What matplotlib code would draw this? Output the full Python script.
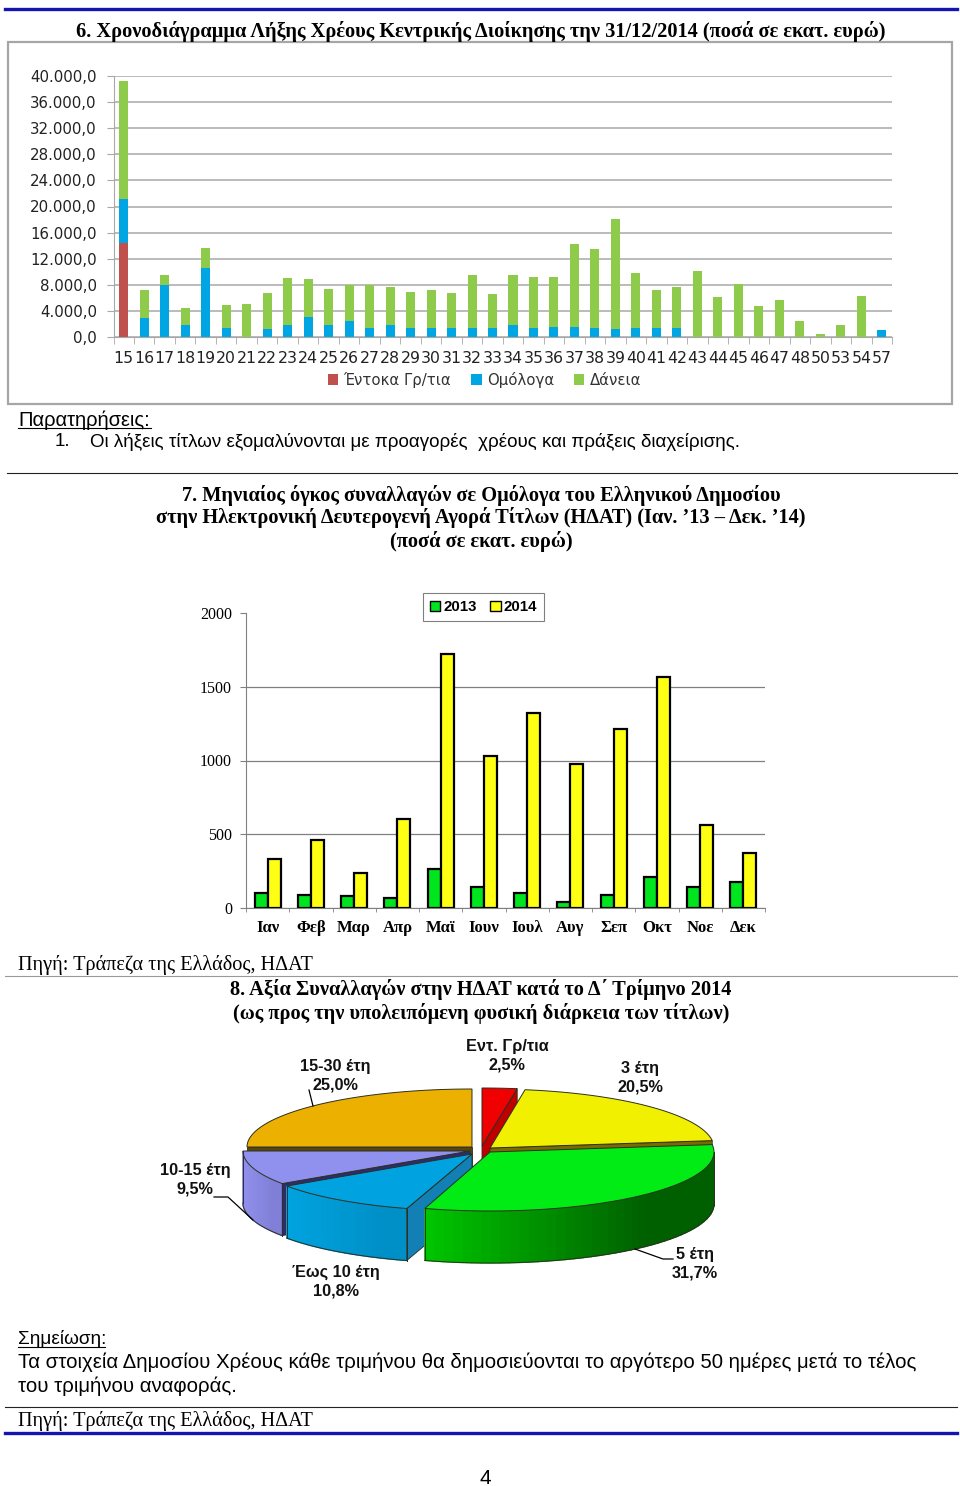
import numpy as np
import matplotlib
matplotlib.use("Agg")
import matplotlib.pyplot as plt
from matplotlib.patches import Polygon, Patch

W, H = 960, 1486

# chart 6: maturity profile
years = ["15", "16", "17", "18", "19", "20", "21", "22", "23", "24", "25", "26", "27",
         "28", "29", "30", "31", "32", "33", "34", "35", "36", "37", "38", "39", "40",
         "41", "42", "43", "44", "45", "46", "47", "48", "50", "53", "54", "57"]
bills = [14400] + [0] * 37
bonds = [6800, 2900, 7900, 1800, 10600, 1400, 0, 1200, 1800, 3100, 1800, 2400, 1400,
         1800, 1400, 1400, 1400, 1400, 1400, 1800, 1400, 1500, 1500, 1400, 1250, 1400,
         1400, 1400, 0, 0, 0, 0, 0, 0, 0, 0, 0, 1050]
loans = [18000, 4300, 1600, 2600, 3000, 3550, 5000, 5600, 7200, 5800, 5500, 5600, 6600,
         5900, 5550, 5800, 5300, 8100, 5250, 7660, 7800, 7700, 12700, 12150, 16800, 8470,
         5860, 6220, 10080, 6090, 8130, 4760, 5730, 2450, 460, 1900, 6240, 0]
y_ticks1 = [0, 4000, 8000, 12000, 16000, 20000, 24000, 28000, 32000, 36000, 40000]
y_labels1 = ["0,0", "4.000,0", "8.000,0", "12.000,0", "16.000,0", "20.000,0",
             "24.000,0", "28.000,0", "32.000,0", "36.000,0", "40.000,0"]

# chart 7: monthly turnover
months = ["Ιαν", "Φεβ", "Μαρ", "Απρ", "Μαϊ", "Ιουν", "Ιουλ", "Αυγ", "Σεπ", "Οκτ", "Νοε", "Δεκ"]
vol_2013 = [105, 85, 80, 70, 265, 145, 100, 40, 90, 210, 140, 175]
vol_2014 = [335, 460, 235, 605, 1720, 1030, 1325, 975, 1215, 1565, 560, 370]

# chart 8: pie shares, clockwise from the top
shares = [2.5, 20.5, 31.7, 10.8, 9.5, 25.0]
share_names = ["Εντ. Γρ/τια", "3 έτη", "5 έτη", "Έως 10 έτη", "10-15 έτη", "15-30 έτη"]

SERIF = "Liberation Serif"
SANS = "Liberation Sans"

fig = plt.figure(figsize=(W / 100, H / 100), dpi=100, facecolor="white")
page = fig.add_axes([0, 0, 1, 1])
page.set_xlim(0, W)
page.set_ylim(H, 0)
page.axis("off")


def px_axes(left, top, right, bottom):
    return fig.add_axes([left / W, 1 - bottom / H, (right - left) / W, (bottom - top) / H])


def txt(x, y, s, size=13.2, family=SANS, weight="normal", ha="left", color="black"):
    page.text(x, y, s, fontsize=size, family=family, weight=weight, ha=ha, va="center", color=color)


# page furniture
page.plot([5, 957], [9, 9], color="#1414b4", lw=2.4)
page.plot([5, 957], [1433, 1433], color="#1414b4", lw=2.4)
page.plot([7, 957], [473, 473], color="#222222", lw=0.8)
page.plot([5, 957], [976, 976], color="#999999", lw=0.8)
page.plot([5, 957], [1407, 1407], color="#222222", lw=0.8)
page.add_patch(plt.Rectangle((8, 42), 944, 362, fc="white", ec="#a6a6a6", lw=1.6))

TITLE = 14.65
txt(481, 31, "6. Χρονοδιάγραμμα Λήξης Χρέους Κεντρικής Διοίκησης την 31/12/2014 (ποσά σε εκατ. ευρώ)",
    size=TITLE, family=SERIF, weight="bold", ha="center")
txt(18, 420, "Παρατηρήσεις:", size=14.5)
page.plot([18, 151], [428, 428], color="black", lw=0.8)
txt(55, 442, "1.", size=13.5)
txt(90, 442, "Οι λήξεις τίτλων εξομαλύνονται με προαγορές  χρέους και πράξεις διαχείρισης.", size=13.5)

txt(481, 495, "7. Μηνιαίος όγκος συναλλαγών σε Ομόλογα του Ελληνικού Δημοσίου", size=TITLE,
    family=SERIF, weight="bold", ha="center")
txt(481, 518, "στην Ηλεκτρονική Δευτερογενή Αγορά Τίτλων (ΗΔΑΤ) (Ιαν. ’13 – Δεκ. ’14)", size=TITLE,
    family=SERIF, weight="bold", ha="center")
txt(481, 542, "(ποσά σε εκατ. ευρώ)", size=TITLE, family=SERIF, weight="bold", ha="center")
txt(18, 965, "Πηγή: Τράπεζα της Ελλάδος, ΗΔΑΤ", size=14.6, family=SERIF)
txt(481, 990, "8. Αξία Συναλλαγών στην ΗΔΑΤ κατά το Δ΄ Τρίμηνο 2014", size=TITLE, family=SERIF,
    weight="bold", ha="center")
txt(481, 1014, "(ως προς την υπολειπόμενη φυσική διάρκεια των τίτλων)", size=TITLE, family=SERIF,
    weight="bold", ha="center")
txt(18, 1339, "Σημείωση:", size=13.7)
page.plot([18, 105], [1347, 1347], color="black", lw=0.8)
txt(18, 1362, "Τα στοιχεία Δημοσίου Χρέους κάθε τριμήνου θα δημοσιεύονται το αργότερο 50 ημέρες μετά το τέλος", size=14.7)
txt(18, 1386, "του τριμήνου αναφοράς.", size=14.7)
txt(18, 1421, "Πηγή: Τράπεζα της Ελλάδος, ΗΔΑΤ", size=14.6, family=SERIF)
txt(485, 1478, "4", size=15, ha="center")

# --- chart 6
ax1 = px_axes(113.5, 76, 892, 337)
x1 = np.arange(len(years))
bills = np.array(bills)
bonds = np.array(bonds)
loans = np.array(loans)
ax1.set_axisbelow(True)
ax1.grid(axis="y", color="#a8a8a8", lw=1.1)
b1 = ax1.bar(x1, bills, 0.44, color="#c0504d")
b2 = ax1.bar(x1, bonds, 0.44, bottom=bills, color="#00a6e4")
b3 = ax1.bar(x1, loans, 0.44, bottom=bills + bonds, color="#8fcb4b")
ax1.set_xlim(-0.5, len(years) - 0.5)
ax1.set_ylim(0, 40000)
ax1.set_yticks(y_ticks1)
ax1.set_yticklabels(y_labels1, fontsize=10.8, color="#222222", family="DejaVu Sans")
ax1.set_xticks(x1)
ax1.set_xticklabels(years, fontsize=11.3, color="#222222", family="DejaVu Sans")
ax1.set_xticks(np.arange(len(years) + 1) - 0.5, minor=True)
ax1.tick_params(axis="x", which="major", length=0, pad=10)
ax1.tick_params(axis="x", which="minor", length=5, color="#a8a8a8")
ax1.tick_params(axis="y", length=5, color="#a8a8a8", pad=7)
for side in ["top", "right"]:
    ax1.spines[side].set_visible(False)
for side in ["left", "bottom"]:
    ax1.spines[side].set_color("#a8a8a8")
ax1.legend([b1, b2, b3], ["Έντοκα Γρ/τια", "Ομόλογα", "Δάνεια"], ncols=3, frameon=False,
           loc="center", bbox_to_anchor=(0.4765, -0.163), fontsize=10.7, handlelength=0.7,
           handleheight=0.7, handletextpad=0.35, columnspacing=1.35, labelcolor="#333333")

# --- chart 7
ax2 = px_axes(246, 613, 765, 908)
x2 = np.arange(len(months))
ax2.set_axisbelow(True)
ax2.grid(axis="y", color="#808080", lw=0.9)
bw = 0.3
ax2.bar(x2 - bw / 2, vol_2013, bw, color="#00e61e", edgecolor="black", lw=1.6)
ax2.bar(x2 + bw / 2, vol_2014, bw, color="#ffff14", edgecolor="black", lw=1.6)
ax2.set_xlim(-0.5, len(months) - 0.5)
ax2.set_ylim(0, 2000)
ax2.set_yticks([0, 500, 1000, 1500, 2000])
ax2.set_yticklabels(["0", "500", "1000", "1500", "2000"], fontsize=11.5, family=SERIF)
ax2.set_xticks(x2)
ax2.set_xticklabels(months, fontsize=12, family=SERIF, weight="bold")
ax2.set_xticks(np.arange(len(months) + 1) - 0.5, minor=True)
ax2.tick_params(axis="x", which="major", length=0, pad=9)
ax2.tick_params(axis="x", which="minor", length=3, color="#808080")
ax2.tick_params(axis="y", length=4, color="#808080", pad=6)
for side in ["top", "right"]:
    ax2.spines[side].set_visible(False)
for side in ["left", "bottom"]:
    ax2.spines[side].set_color("#808080")
ax2.get_ygridlines()[4].set_visible(False)
leg = ax2.legend(handles=[Patch(fc="#00e61e", ec="black", label="2013"), Patch(fc="#ffff14", ec="black", label="2014")],
                 ncols=2, loc="center", bbox_to_anchor=(0.4576, 1.02), fancybox=False, framealpha=1,
                 edgecolor="#808080", prop={"family": SANS, "weight": "bold", "size": 10.8},
                 handlelength=0.7, handleheight=0.7, handletextpad=0.2, columnspacing=0.9,
                 borderpad=0.45, borderaxespad=0)
leg.get_frame().set_linewidth(0.8)

# --- chart 8, a tilted exploded pie built from the shares
# per wedge: centre x, centre y, radius x, radius y
wedge_geom = [(482, 1146, 225, 58),
              (490, 1148, 224, 59),
              (490, 1152, 224, 59),
              (472, 1154, 224, 57),
              (470, 1151, 227, 58),
              (472, 1147, 225, 58)]
top_cols = ["#f00000", "#f0f000", "#00ec14", "#00a2e0", "#9090ee", "#ecb000"]
face_cols = ["#c00000", "#7a6a00", "#008000", "#1280b4", "#2c2c70", "#5a4510"]
wall_cols = [("#c00000", "#c00000"), ("#7a6a00", "#7a6a00"), ("#00c800", "#006000"),
             ("#00a4e0", "#0090c8"), ("#9090ec", "#8080d8"), ("#5a4510", "#5a4510")]
depth = 52
edge = "#2c3020"

ang = np.cumsum([0] + shares) / 100 * 360
order = [5, 0, 1, 4, 3, 2]  # back to front


def rim(geom, deg):
    cx, cy, rx, ry = geom
    t = np.radians(deg)
    return cx + rx * np.sin(t), cy - ry * np.cos(t)


def mix(c0, c1, f):
    a = np.array(matplotlib.colors.to_rgb(c0))
    b = np.array(matplotlib.colors.to_rgb(c1))
    return a + (b - a) * f


for i in order:
    g = wedge_geom[i]
    a0, a1 = ang[i], ang[i + 1]
    deg = np.linspace(a0, a1, 90)
    xs, ys = rim(g, deg)
    # outer wall, only where it faces the viewer
    lo, hi = max(a0, 90), min(a1, 270)
    if hi > lo:
        d = np.linspace(lo, hi, 45)
        wx, wy = rim(g, d)
        for k in range(len(d) - 1):
            # gradient runs left to right, darkest towards the right end
            f = (wx[k] - wx.min()) / max(wx.max() - wx.min(), 1)
            c = mix(*wall_cols[i], min(f * 1.3, 1))
            page.add_patch(Polygon([(wx[k], wy[k]), (wx[k + 1], wy[k + 1]),
                                    (wx[k + 1], wy[k + 1] + depth), (wx[k], wy[k] + depth)],
                                   closed=True, fc=c, ec=c, lw=1.0))
        page.plot(wx, wy + depth, color=edge, lw=0.7)
        page.plot([wx[-1]] * 2, [wy[-1], wy[-1] + depth], color=edge, lw=0.7)
        page.plot([wx[0]] * 2, [wy[0], wy[0] + depth], color=edge, lw=0.7)
    # cut faces seen from the front
    cut = None
    if i in (0, 1):
        cut = a1
    if i in (3, 4, 5):
        cut = a0
    if cut is not None:
        ex, ey = rim(g, cut)
        page.add_patch(Polygon([(g[0], g[1]), (float(ex), float(ey)), (float(ex), float(ey) + depth),
                                (g[0], g[1] + depth)], closed=True, fc=face_cols[i], ec=edge, lw=0.6))
    # top surface
    page.add_patch(Polygon(np.vstack([[g[0], g[1]], np.column_stack([xs, ys])]), closed=True,
                           fc=top_cols[i], ec=edge, lw=0.7))

# labels
lbl_pos = [(507, 1047), (640, 1069), (695, 1255), (336, 1272), (195, 1171), (335, 1067)]
for name, val, (lx, ly) in zip(share_names, shares, lbl_pos):
    pct = f"{val:.1f}%".replace(".", ",")
    txt(lx, ly, name, size=11.7, weight="bold", ha="center", color="#111111")
    txt(lx, ly + 18.5, pct, size=11.7, weight="bold", ha="center", color="#111111")
page.plot([309, 313], [1090, 1106], color="black", lw=0.9)
page.plot([214, 228, 253], [1197, 1197, 1220], color="black", lw=0.9)
page.plot([673, 663, 635], [1259, 1259, 1249], color="black", lw=0.9)

fig.savefig("out.png", dpi=100)
